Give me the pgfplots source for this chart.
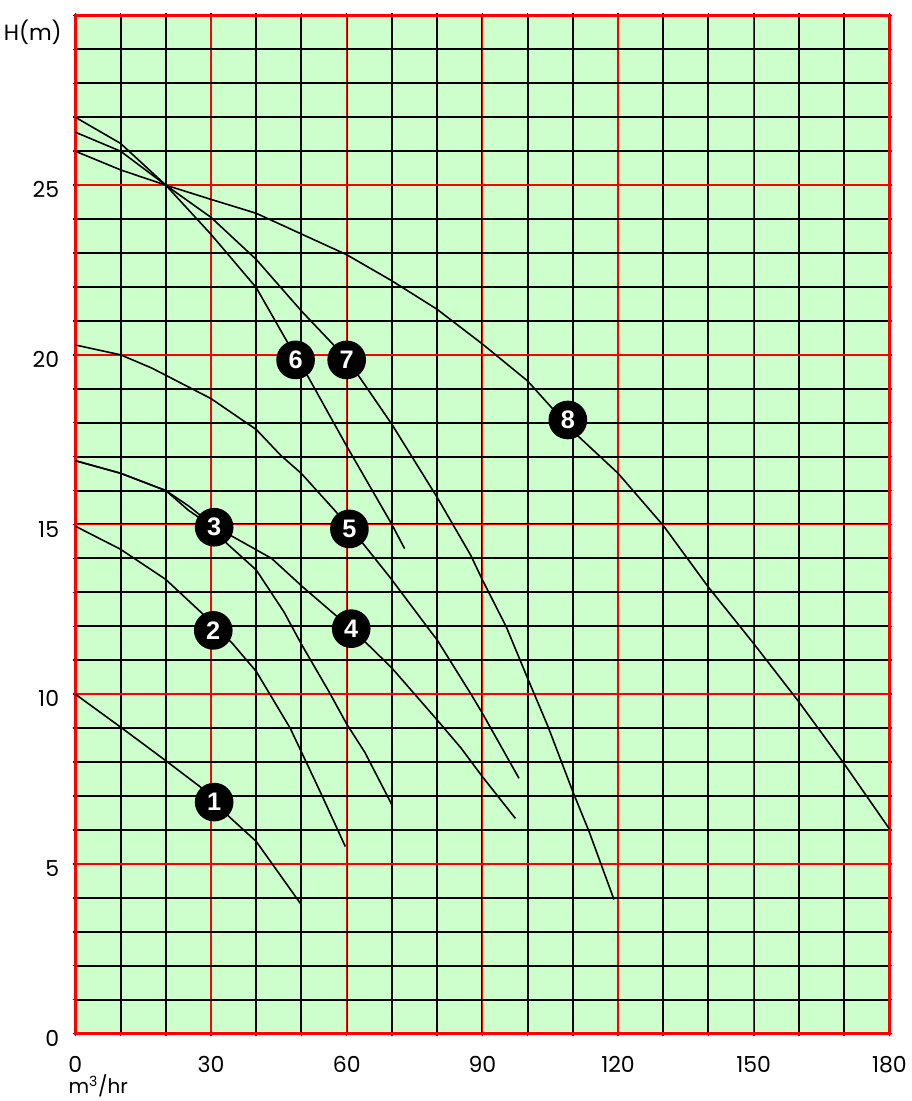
\documentclass[border=0pt]{standalone}
\usepackage{pgfplots}
\pgfplotsset{compat=1.18}
\usepackage{fontspec}
\setmainfont{Poppins}
\newfontfamily\markfont{Liberation Sans}
\definecolor{pumpbg}{HTML}{CCFFCC}
\definecolor{pumpred}{HTML}{FF0000}

\begin{document}
\begin{tikzpicture}
% frame of the picture (1 px = 0.75pt)
\useasboundingbox (-56.5pt,-50.6pt) rectangle (626.8pt,775.1pt);
\begin{axis}[
    at={(0,0)}, anchor=south west,
    scale only axis,
    width=610.5pt, height=763.5pt,
    xmin=0, xmax=180, ymin=0, ymax=30,
    clip=false,
    axis background/.style={fill=pumpbg},
    axis line style={pumpred, line width=2.5pt},
    xtick={0,30,...,180},
    ytick={0,5,...,25},
    minor xtick={0,10,...,180},
    minor ytick={0,1,...,30},
    grid=both,
    minor grid style={black, line width=1.5pt},
    major grid style={pumpred, line width=1.1pt},
    tick align=outside,
    major tick length=2pt, minor tick length=2pt,
    tick style={black, line width=1.2pt},
    /pgf/number format/assume math mode=true,
    tick label style={font=\fontsize{16.5}{19}\selectfont},
    xticklabel style={anchor=base, inner sep=0pt, yshift=-27.5pt},
    yticklabel style={anchor=east, inner sep=0pt, xshift=-10pt, yshift=-3.5pt},
    pump/.style={black, solid, mark=none, line width=1.2pt},
  ]
% curve 1
\addplot[pump] coordinates {(0,10) (10,9.03) (20,8.04) (28,7.23) (34,6.39) (40,5.66) (50,3.79)};
% curve 2
\addplot[pump] coordinates {(0,14.95) (10,14.27) (20,13.38) (28.3,12.35) (34.7,11.5) (40,10.67) (47.5,9.0) (54.3,7.08) (59.7,5.51)};
% curve 3
\addplot[pump] coordinates {(0,16.88) (10,16.51) (20,16.0) (25,15.42) (30.7,14.9) (33.5,14.44) (40,13.66) (46.1,12.43) (50,11.47) (56.1,10.07) (60,9.12) (64,8.29) (70,6.74)};
% curve 4
\addplot[pump] coordinates {(0,16.88) (10,16.51) (20,16.0) (25,15.55) (30.7,14.95) (43.4,14.0) (50.2,13.17) (61,11.93) (64.4,11.5) (70,10.77) (74.9,10.02) (80,9.24) (85.3,8.41) (90,7.57) (97.3,6.34)};
% curve 5
\addplot[pump] coordinates {(0,20.29) (10,20.0) (16.9,19.61) (30,18.71) (36.9,18.08) (40,17.8) (45.4,17.04) (50,16.5) (57.6,15.38) (60.6,14.87) (63.6,14.44) (70,13.37) (78.6,11.84) (80,11.6) (87.4,10.02) (90,9.44) (98.1,7.52)};
% curve 6
\addplot[pump] coordinates {(0,27.0) (10,26.23) (20,25.0) (30,23.55) (40,21.98) (46.9,20.37) (48.7,19.95) (51.4,19.37) (60,17.31) (70,15.0) (72.8,14.29)};
% curve 7
\addplot[pump] coordinates {(0,26.56) (10,26.0) (20,25.0) (30,24.05) (40,22.81) (50,21.29) (56.9,20.32) (60,19.85) (62.8,19.35) (70,17.95) (80,15.8) (87.4,14.1) (90,13.37) (95.3,11.98) (100,10.47) (104.5,9.05) (110,7.13) (113.6,5.95) (119.1,3.95)};
% curve 8
\addplot[pump] coordinates {(0,26.0) (10,25.45) (20,25.0) (30,24.58) (40,24.17) (50,23.56) (60,22.95) (70,22.18) (80,21.34) (90,20.32) (100,19.23) (110,17.75) (120,16.51) (130,14.97) (140,13.15) (150,11.49) (160,9.77) (170,7.95) (180,6.03)};
% numbered badges
\addplot[only marks, mark=none, point meta=explicit symbolic,
    nodes near coords,
    every node near coord/.append style={anchor=center, circle, fill=black,
        text=white, inner sep=0pt, minimum size=29pt,
        font=\markfont\bfseries\fontsize{19}{19}\selectfont}]
  coordinates {
    (30.7,6.82) [1]
    (30.5,11.88) [2]
    (30.7,14.92) [3]
    (61,11.93) [4]
    (60.6,14.87) [5]
    (48.7,19.85) [6]
    (60,19.85) [7]
    (108.9,18.08) [8]
  };
\node[anchor=east, inner sep=0pt, xshift=-10pt, font=\fontsize{16.5}{19}\selectfont] at (0,29.5) {H(m)};
\node[anchor=base west, inner sep=0pt, xshift=-5.3pt, yshift=-45pt, font=\fontsize{15}{18}\selectfont] at (0,0) {m\textsuperscript{3}/hr};
\end{axis}
\end{tikzpicture}
\end{document}
